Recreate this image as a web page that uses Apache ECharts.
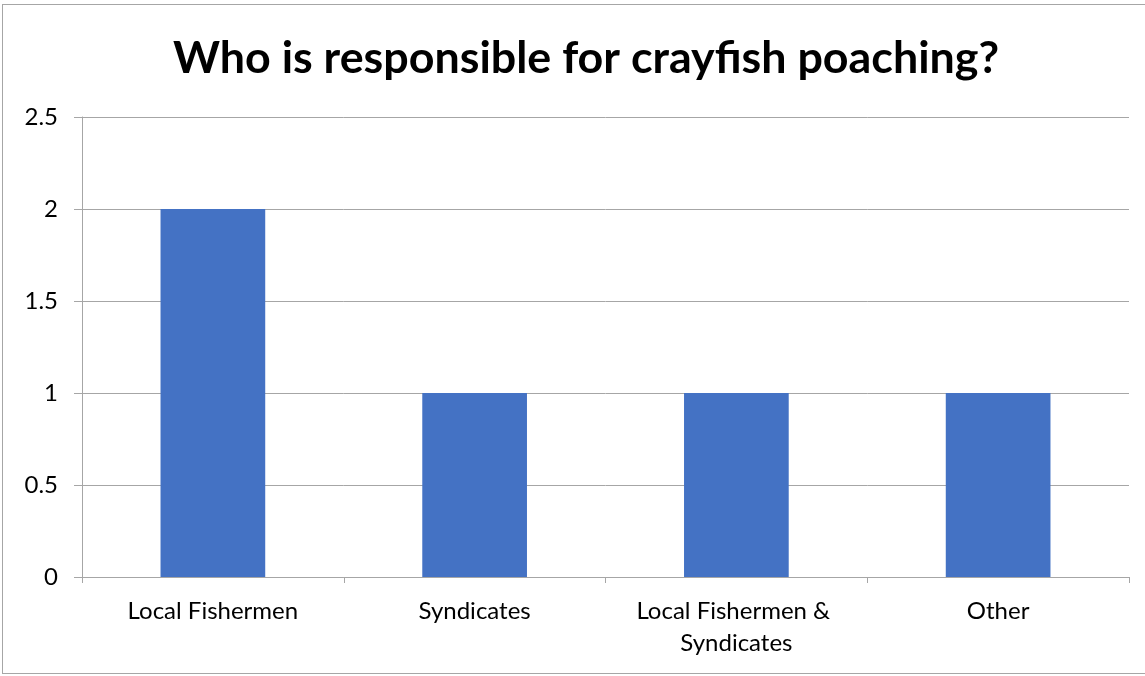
<!DOCTYPE html>
<html>
<head>
<meta charset="utf-8">
<script src="https://cdn.jsdelivr.net/npm/echarts@6/dist/echarts.min.js"></script>
<style>
html,body{margin:0;padding:0;background:#fff;}
#chart{position:absolute;left:0;top:0;width:1145px;height:676px;}
#frame{position:absolute;left:2px;top:4px;width:1150px;height:670px;border:1px solid #a6a6a6;box-sizing:border-box;pointer-events:none;}
</style>
</head>
<body>
<div id="chart"></div>
<div id="frame"></div>
<script>
const titleText = 'Who is responsible for crayfish poaching?';
const categories = ['Local Fishermen', 'Syndicates', 'Local Fishermen & Syndicates', 'Other'];
const values = [2, 1, 1, 1];

const chart = echarts.init(document.getElementById('chart'));
chart.setOption({
  animation: false,
  backgroundColor: 'transparent',
  title: {
    text: titleText,
    left: 168,
    top: 31,
    textStyle: { fontFamily: 'Lato', fontWeight: 'bold', fontSize: 44.8, color: '#000' }
  },
  grid: { left: 82, right: 16, top: 117, bottom: 99, containLabel: false },
  xAxis: {
    type: 'category',
    data: categories,
    boundaryGap: true,
    axisLine: { lineStyle: { color: '#a6a6a6', width: 1 } },
    axisTick: { show: true, length: 6, alignWithLabel: false, lineStyle: { color: '#a6a6a6' } },
    axisLabel: {
      color: '#000', fontFamily: 'Lato', fontSize: 24, margin: 18,
      width: 240, overflow: 'break', lineHeight: 32, interval: 0
    }
  },
  yAxis: {
    type: 'value',
    min: 0, max: 2.5, interval: 0.5,
    axisLine: { show: true, lineStyle: { color: '#a6a6a6', width: 1 } },
    axisTick: { show: true, length: 8, lineStyle: { color: '#a6a6a6' } },
    splitLine: { show: true, lineStyle: { color: '#a6a6a6', width: 1 } },
    axisLabel: { color: '#000', fontFamily: 'Lato', fontSize: 24, margin: 24 }
  },
  series: [{
    type: 'bar',
    data: values,
    barWidth: '40%',
    itemStyle: { color: '#4472C4' }
  }]
});
</script>
</body>
</html>
